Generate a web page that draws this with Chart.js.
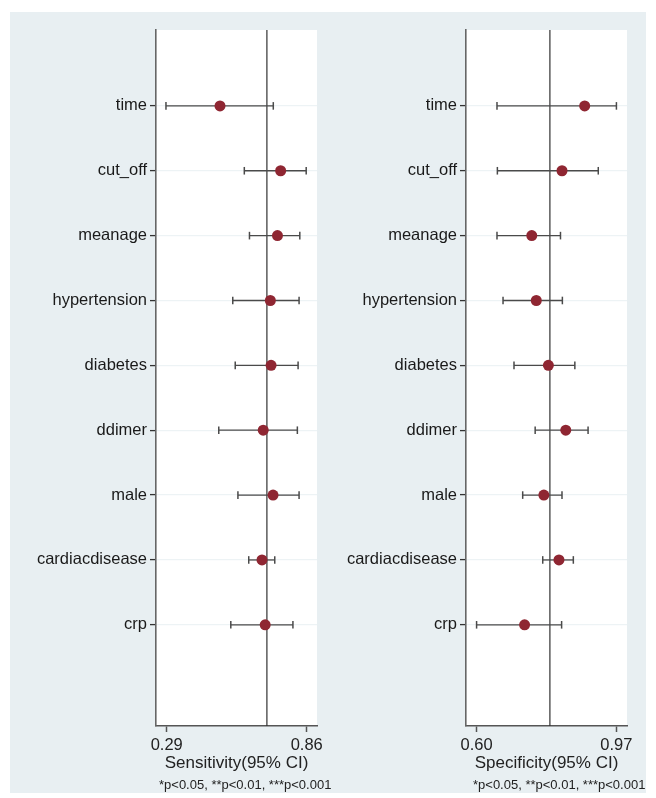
<!DOCTYPE html>
<html>
<head>
<meta charset="utf-8">
<script src="https://cdn.jsdelivr.net/npm/chart.js@4.4.1/dist/chart.umd.min.js"></script>
<style>
html, body { margin: 0; padding: 0; background: #fff; }
#wrap { position: relative; width: 656px; height: 798px; overflow: hidden; }
#bg { position: absolute; left: 10px; top: 12px; width: 636px; height: 781px; background: #e8eff2; }
canvas { position: absolute; top: 0; }
.note { position: absolute; top: 777px; font: 13px "Liberation Sans", Arial, sans-serif; color: #222; white-space: nowrap; }
</style>
</head>
<body>
<div id="wrap">
  <div id="bg"></div>
  <canvas id="sensChart" width="328" height="798" style="left:0"></canvas>
  <canvas id="specChart" width="328" height="798" style="left:328px"></canvas>
  <div class="note" style="left:159px">*p&lt;0.05, **p&lt;0.01, ***p&lt;0.001</div>
  <div class="note" style="left:473px">*p&lt;0.05, **p&lt;0.01, ***p&lt;0.001</div>
</div>
<script>
// Variáveis (de cima para baixo)
const labels = ["time", "cut_off", "meanage", "hypertension", "diabetes", "ddimer", "male", "cardiacdisease", "crp"];

// Sensibilidade
const sensEst = [0.507, 0.754, 0.741, 0.712, 0.715, 0.683, 0.723, 0.678, 0.691];
const sensLo  = [0.287, 0.606, 0.627, 0.559, 0.569, 0.502, 0.580, 0.624, 0.551];
const sensHi  = [0.724, 0.858, 0.832, 0.829, 0.825, 0.822, 0.829, 0.730, 0.804];
const sensPooled = 0.698;
const sensTicks = [0.29, 0.86];

// Especificidade
const specEst = [0.886, 0.826, 0.746, 0.758, 0.790, 0.836, 0.778, 0.818, 0.727];
const specLo  = [0.654, 0.655, 0.654, 0.670, 0.699, 0.755, 0.722, 0.775, 0.600];
const specHi  = [0.970, 0.922, 0.822, 0.827, 0.860, 0.895, 0.826, 0.856, 0.825];
const specPooled = 0.794;
const specTicks = [0.60, 0.97];

const FONT = '"Liberation Sans", Arial, sans-serif';
const Y_MIN = -0.17, Y_MAX = 10.56;

// fundo branco só na área do gráfico
const plotBg = {
    id: 'plotBg',
    beforeDraw(chart) {
        const { ctx, chartArea: a } = chart;
        ctx.save();
        ctx.fillStyle = '#ffffff';
        ctx.fillRect(a.left, a.top, a.right - a.left, a.bottom - a.top);
        ctx.restore();
    }
};

function createForest(id, est, lo, hi, pooled, xMin, xMax, ticks, title, yWidth, padRight) {
    const ctx = document.getElementById(id);
    if (!ctx) {
        console.error('Elemento ' + id + ' não encontrado');
        return;
    }

    const datasets = [];
    // pontos (primeiro = desenhado por cima)
    datasets.push({
        data: est.map((v, i) => ({ x: v, y: i + 1 })),
        pointRadius: 5.5,
        pointBackgroundColor: '#8f2632',
        pointBorderWidth: 0,
        showLine: false
    });
    // intervalos de confiança
    labels.forEach((_, i) => {
        datasets.push({
            data: [{ x: lo[i], y: i + 1 }, { x: hi[i], y: i + 1 }],
            showLine: true,
            borderColor: '#4a4a4a',
            borderWidth: 1.3,
            pointStyle: 'line',
            rotation: 90,
            pointRadius: 3.8,
            pointBorderColor: '#4a4a4a',
            pointBorderWidth: 1.5
        });
    });
    // linha de referência
    datasets.push({
        data: [{ x: pooled, y: Y_MIN }, { x: pooled, y: Y_MAX }],
        showLine: true,
        borderColor: '#333333',
        borderWidth: 1.2,
        pointRadius: 0
    });

    new Chart(ctx.getContext('2d'), {
        type: 'scatter',
        data: { datasets: datasets },
        plugins: [plotBg],
        options: {
            responsive: false,
            animation: false,
            layout: { padding: { top: 30, right: padRight, left: 0, bottom: 0 } },
            plugins: {
                legend: { display: false },
                tooltip: { enabled: false }
            },
            scales: {
                x: {
                    type: 'linear',
                    min: xMin,
                    max: xMax,
                    afterBuildTicks: axis => { axis.ticks = ticks.map(v => ({ value: v })); },
                    afterFit: scale => { scale.height = 72; },
                    ticks: {
                        color: '#222',
                        font: { family: FONT, size: 16.5 },
                        padding: 4,
                        maxRotation: 0,
                        callback: v => Number(v).toFixed(2)
                    },
                    grid: { drawOnChartArea: false, tickLength: 6, tickColor: '#555', tickWidth: 1.5 },
                    border: { color: '#555', width: 1.5 },
                    title: {
                        display: true,
                        text: title,
                        color: '#222',
                        font: { family: FONT, size: 17 },
                        padding: { top: 0, bottom: 24 }
                    }
                },
                y: {
                    type: 'linear',
                    reverse: true,
                    min: Y_MIN,
                    max: Y_MAX,
                    afterBuildTicks: axis => { axis.ticks = labels.map((_, i) => ({ value: i + 1 })); },
                    afterFit: scale => { scale.width = yWidth; },
                    ticks: {
                        color: '#1a1a1a',
                        font: { family: FONT, size: 16.5 },
                        padding: 3,
                        callback: v => labels[Math.round(v) - 1]
                    },
                    grid: { color: '#edf3f5', lineWidth: 1.2, tickLength: 6, tickColor: '#333', tickWidth: 1.3 },
                    border: { color: '#666', width: 1.6 }
                }
            }
        }
    });
}

createForest('sensChart', sensEst, sensLo, sensHi, sensPooled, 0.2464, 0.902, sensTicks, 'Sensitivity(95% CI)', 156, 11);
createForest('specChart', specEst, specLo, specHi, specPooled, 0.572, 0.998, specTicks, 'Specificity(95% CI)', 138, 29);
</script>
</body>
</html>
